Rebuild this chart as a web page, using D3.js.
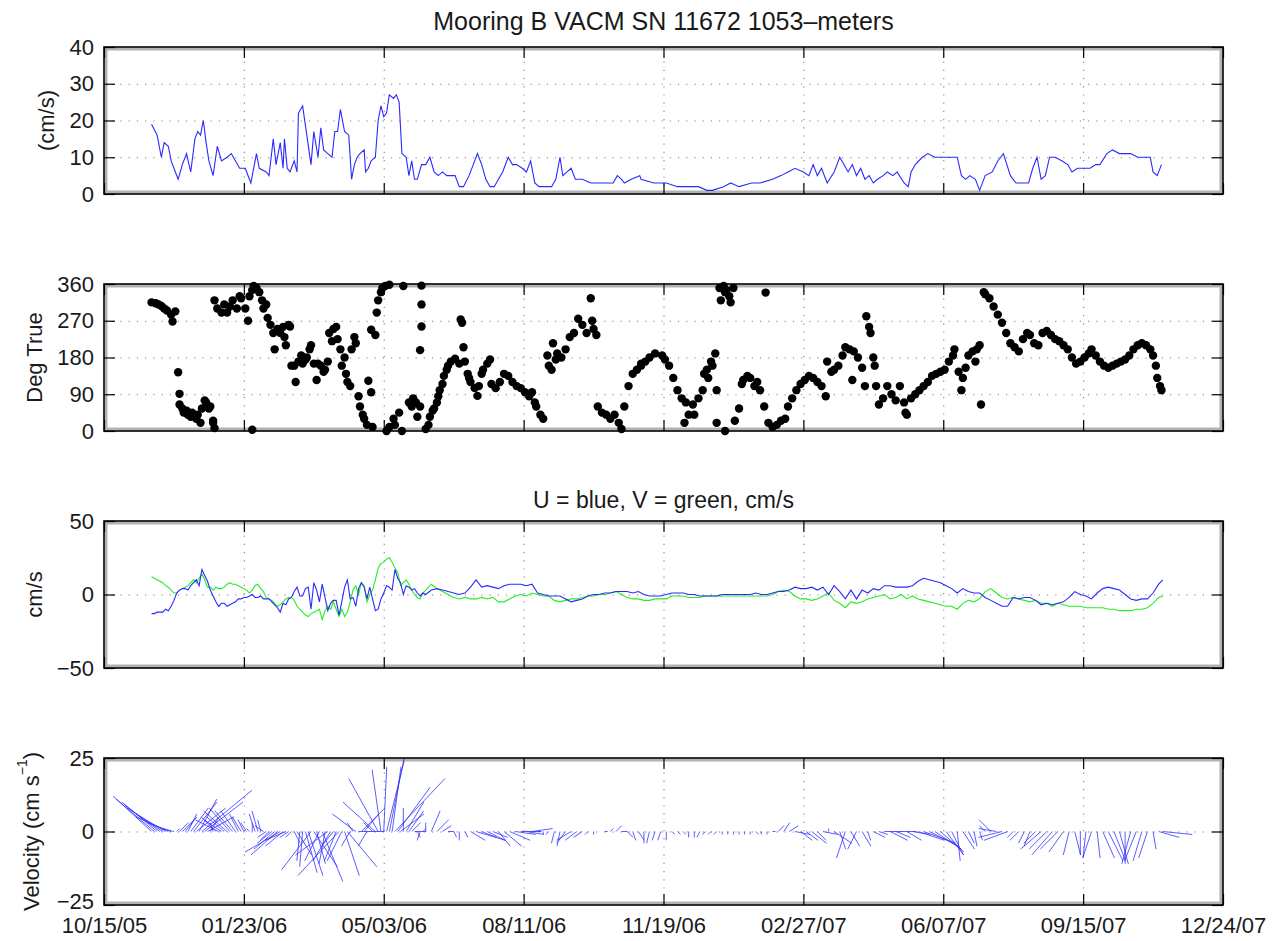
<!DOCTYPE html>
<html><head><meta charset="utf-8">
<script src="https://cdn.jsdelivr.net/npm/d3@7"></script>
<style>
body{margin:0;background:#fff}
svg{font-family:"Liberation Sans",Arial,Helvetica,sans-serif}
</style>
</head><body>
<svg id="c" width="1282" height="941"></svg>
<script>
// ---- time base: days since 10/15/05 ----
const xTickDays = [0,100,200,300,400,500,600,700,800];

// Panel 1: speed (cm/s) as [day, value]
const speed = [[34,19],[38,16],[41,10],[43,14],[46,13],[48,9],[53,4],[56,8],[59,11],[62,6],[65,15],[67,17],[69,16],[71,20],[73,14],[75,9],[78,5],[81,13],[84,9],[88,10],[91,11],[94,9],[97,7],[101,7],[105,3],[109,11],[111,7],[116,6],[118,5],
[121,15],[123,8],[126,14],[128,7],[129,15],[131,7],[133,6],[136,9],[138,6],[139,22],[142,24],[145,16],[148,8],[150,17],[153,10],[155,18],[157,12],[160,11],[163,10],[165,17],[167,17],[169,23],[172,17],[175,16],[177,4],[179,8],[181,10],[183,11],[186,12],[187,6],[189,7],[191,9],[194,10],[196,20],[198,24],[200,21],[202,22],[204,27],[207,26],[209,27],[211,25],[213,11],[216,10],[218,5],[220,9],[222,4],[224,4],[227,8],[230,8],[233,10],[236,6],[239,5],[242,6],[245,5],[248,5],[251,5],[254,2],[257,2],[261,5],[264,8],[267,11],[270,8],[273,4],[276,2],[279,2],[282,4],[285,6],[289,10],[292,8],[295,8],[299,7],[302,6],[305,9],[308,3],[311,2],[315,2],[320,2],[323,4],[326,10],[328,5],[331,6],[334,7],[337,4],[342,4],[348,3],[352,3],[358,3],[364,3],[367,5],[370,4],[372,3],[377,4],[383,5],
[384,4],[393,3],[402,3],[410,2],[416,2],[425,2],[431,1],[435,1],[443,2],[448,3],[454,2],[463,3],[469,3],[478,4],[484,5],[489,6],[494,7],[500,6],[504,5],[507,8],[510,5],[513,7],[517,3],[522,6],[526,10],[529,8],[532,6],[535,8],[538,5],[541,7],[544,4],[547,5],[550,3],[553,4],[557,5],[560,6],[564,5],[567,6],[572,3],[575,2],[577,6],[580,8],[585,10],[589,11],[594,10],[598,10],[602,10],[607,10],[610,10],[613,5],[616,4],[619,5],[623,4],[626,1],[630,5],[635,6],[639,9],[643,11],[648,5],[652,3],[657,3],[661,3],[664,7],[667,10],[670,4],[673,5],[676,10],[680,10],[685,9],[689,8],[692,6],[696,7],[701,7],[705,7],[709,8],[712,8],[717,11],[721,12],[726,11],[730,11],[734,11],[739,10],[743,10],[748,10],[750,6],[753,5],[756,8]];

// Panel 2: direction (deg true) as [day, value]
const direction = [[34,315],[37,313],[39,310],[41,306],[43,300],[45,295],[48,285],[49,268],[51,293],
[53,144],[54,91],[54,65],[56,55],[57,45],[59,50],[60,40],[62,35],[63,45],[65,35],[66,30],[67,40],[69,20],[70,55],[72,75],[73,70],[75,55],[76,60],[78,20],[79,7],[78,25],[106,3],
[79,320],[81,300],[84,290],[86,310],[88,290],[90,305],[92,320],[95,300],[97,330],[98,325],[101,300],[103,270],[104,330],[106,345],[107,355],[109,350],[111,340],[113,320],[114,300],[116,310],[117,277],[119,260],[121,240],[122,200],[124,250],[126,240],[128,255],[129,230],[130,210],[132,260],[133,256],[134,160],[136,160],[137,120],[139,170],[141,185],[142,165],[144,175],[145,180],[147,200],[148,210],[150,165],[152,125],[153,165],[155,160],[157,145],[158,150],[160,170],[161,240],[163,220],[164,250],[166,255],[167,225],[169,200],[170,160],[172,180],[173,140],[174,120],[176,110],[177,200],[179,230],[180,215],[182,85],[183,60],[185,40],[186,30],[188,15],[189,123],[191,95],[192,10],[191,248],[194,235],[195,290],[196,320],[198,340],[199,350],[201,355],[204,358],[202,0],[204,10],[207,30],[208,15],[211,45],[213,0],[214,355],[218,70],[220,60],[221,80],[223,70],[224,35],[226,60],[227,356],[227,310],[227,256],[226,198],
[230,5],[232,15],[233,35],[235,50],[236,55],[238,70],[239,85],[240,100],[242,115],[243,135],[245,150],[246,160],[248,170],[251,177],[254,165],[255,273],[257,205],[256,265],[258,170],[260,140],[261,130],[262,120],[265,105],[267,86],[268,110],[270,140],[271,150],[274,165],[276,175],[277,115],[280,105],[283,120],[286,140],[289,135],[292,120],[295,110],[298,105],[301,95],[304,85],[306,95],[308,70],[309,60],[312,40],[314,30],
[317,185],[318,160],[320,150],[321,215],[323,175],[324,190],[327,180],[330,200],[333,230],[336,240],[339,275],[342,260],[345,240],[348,325],[349,270],[350,250],[352,235],
[353,60],[356,45],[359,40],[362,30],[365,40],[368,20],[370,5],[372,60],[375,110],[378,140],[381,150],[384,160],
[384,165],[387,170],[390,180],[394,190],[399,185],[401,175],[404,160],[407,130],[410,100],[413,80],[416,70],[415,20],[418,40],[421,65],[422,40],[425,80],[428,100],[429,140],[431,150],[432,130],[434,170],[435,160],[437,190],[438,100],[440,350],[441,320],[443,355],[444,340],[445,345],[447,330],[448,315],[450,350],[438,20],[444,0],[451,25],[454,55],[456,115],[457,125],[460,135],[462,130],[465,110],[467,120],[469,100],[472,60],[473,339],[475,20],[478,10],[481,15],[484,25],[487,30],[489,60],[492,80],[495,100],[498,115],[501,125],[504,135],[507,130],[510,120],[513,110],[516,85],[517,170],[520,145],[522,150],[525,160],[528,185],[530,205],[533,200],[535,125],[536,195],[539,180],[542,155],[544,110],[545,281],[547,255],[548,240],[550,180],[551,160],[552,110],[554,65],[557,80],[560,110],[563,90],[566,75],[569,110],[572,70],[573,45],[574,40],[577,80],[580,90],[583,100],[586,110],[589,120],[592,135],[595,140],[598,145],[601,150],[604,170],[607,185],[608,200],[611,145],[613,100],[614,130],[616,155],[618,185],[621,195],[623,170],[624,200],[626,210],[627,65],[629,340],[630,335],[633,325],[636,305],[639,285],[642,265],[645,240],[648,215],[651,205],[654,195],[657,225],[660,240],[662,235],[665,215],[668,210],[671,240],[674,245],[677,235],[680,225],[683,220],[686,210],[689,200],[692,180],[695,165],[698,170],[701,180],[704,190],[706,200],[709,185],[712,170],[715,160],[718,155],[721,160],[724,165],[727,170],[730,175],[733,185],[736,200],[739,210],[742,215],[745,210],[748,200],[750,185],[752,160],[753,130],[755,110],[756,100]];

// Panels 3 & 4: U and V components (cm/s)
const uvDays = [34,36,38,40,42,44,46,48,50,52,54,56,58,60,62,64,66,68,70,72,74,76,78,80,82,84,86,88,90,92,94,96,98,100,102,104,106,108,110,112,114,116,118,120,122,124,126,128,130,132,134,136,138,140,142,144,146,148,150,152,154,156,158,160,162,164,166,168,170,172,174,176,178,180,182,184,186,188,190,192,194,196,198,200,202,204,206,208,210,212,214,216,218,220,222,224,226,228,230,
234,238,242,246,250,254,258,262,266,270,274,278,282,286,290,294,298,302,306,310,314,318,322,326,330,334,338,342,346,350,354,358,362,366,370,374,378,382,
386,390,394,398,402,406,410,414,418,422,426,430,434,438,442,446,450,454,458,462,466,470,474,478,482,486,490,494,498,502,506,510,514,518,522,526,530,534,538,542,546,550,554,558,562,566,570,574,578,582,586,590,594,598,602,606,610,614,618,622,626,630,634,638,642,646,650,654,658,662,666,670,674,678,682,686,690,694,698,702,706,710,714,718,722,726,730,734,738,742,746,750,754,757];
const uVals = [-13,-13,-12,-12,-12,-10,-11,-8,-4,1,
3,4,4,3,6,8,10,6,17,13,
9,3,-1,-5,-8,-6,-6,-8,-7,-6,
-5,-3,-3,-2,-2,-1,0,-2,-2,-1,
-3,-3,-3,-5,-7,-9,-12,-6,-7,-3,
-2,2,5,-1,-1,4,5,-10,8,3,
-5,7,-2,-11,-6,-4,-4,-14,-5,5,
10,-3,-2,-8,4,8,5,-3,5,-3,
-11,-10,-3,1,6,5,3,17,11,8,
0,6,5,3,4,1,-1,1,0,
3,4,3,2,1,0,1,5,10,5,6,5,4,6,7,7,7,6,7,1,0,-1,-1,-1,-3,-5,-4,-3,-1,0,0,1,1,2,2,2,1,2,
0,-1,-1,-1,0,1,1,1,0,0,-1,-1,-1,-1,0,0,0,0,0,0,1,0,0,1,2,2,3,5,4,4,5,3,5,0,6,2,-3,3,-3,3,1,4,3,6,6,5,5,5,6,9,11,10,9,8,6,4,1,4,2,1,1,-2,-4,-6,-8,-8,-2,-3,-2,-2,-4,-7,-6,-7,-6,-5,-2,2,0,-1,-3,1,4,5,4,3,0,-3,-4,-3,-3,1,7,10];
const vVals = [12,11,10,9,8,6,5,3,1,1,
3,4,5,6,8,10,8,11,14,10,
5,5,3,5,4,4,5,7,8,7,
7,6,5,4,3,1,3,6,7,4,
2,-2,-3,-4,-6,-8,-7,-5,-3,-2,
-2,-4,-8,-10,-12,-14,-15,-13,-12,-11,
-10,-17,-11,-8,-10,-5,-10,-15,-10,-15,
-12,-5,3,6,0,8,6,-5,0,3,
10,18,21,22,24,25,22,18,15,6,
8,10,7,3,0,-2,-3,1,3,
7,4,2,0,-2,-3,-2,-3,-3,-2,-3,-2,-5,-5,-3,-1,0,-1,1,0,-1,-1,-4,-5,-4,-3,-3,-2,-1,-1,0,0,1,2,0,-2,-3,-3,
-4,-4,-3,-3,-3,-1,-1,-1,-2,-2,-2,-1,-1,-1,-1,-1,-1,-1,-1,-1,-1,-1,-1,0,2,3,2,-1,-3,-3,-4,-3,-1,1,-4,-6,-9,-5,-6,-5,-3,-2,-1,0,-3,-2,0,-3,-1,-3,-4,-5,-6,-7,-8,-8,-10,-6,-4,-5,-3,2,4,1,-2,-3,-2,-3,-4,-5,-4,-6,-6,-8,-6,-7,-8,-8,-8,-9,-9,-9,-9,-10,-10,-11,-11,-11,-10,-10,-9,-6,-2,-1];

const speedTicks = [0,10,20,30,40];
const dirTicks = [0,90,180,270,360];
const uvTicks = [-50,0,50];
const stickTicks = [-25,0,25];

// ---- layout ----
const L = 104, R = 1223, PH = 147;
const tops = [47, 284, 521, 758];
const START = Date.UTC(2005, 9, 15);
const toDate = d => new Date(START + d * 864e5);
const x = d3.scaleUtc().domain([toDate(0), toDate(800)]).range([L, R]);
const xTickDates = xTickDays.map(toDate);
const fmt = d3.utcFormat("%m/%d/%y");
const FS = 22;

const svg = d3.select("#c");
svg.append("rect").attr("width",1282).attr("height",941).attr("fill","#fff");

function panel(idx, domain, ticks, ylabel, ylabelX, showX){
  const g = svg.append("g").attr("transform", `translate(0,${tops[idx]})`);
  const y = d3.scaleLinear().domain(domain).range([PH, 0]);
  // dotted grid
  const gx = g.append("g").attr("transform", `translate(0,${PH})`)
    .call(d3.axisBottom(x).tickValues(xTickDates.slice(1,-1)).tickSize(-PH).tickFormat(""));
  const gy = g.append("g").attr("transform", `translate(${L},0)`)
    .call(d3.axisLeft(y).tickValues(ticks.slice(1,-1)).tickSize(-(R-L)).tickFormat(""));
  [gx, gy].forEach(a => { a.select(".domain").remove();
    a.selectAll("line").attr("stroke","#808080").attr("stroke-width",1.1).attr("stroke-dasharray","1.2 7"); });
  // clip
  g.append("clipPath").attr("id","clip"+idx).append("rect")
    .attr("x",L).attr("y",0).attr("width",R-L).attr("height",PH);
  const data = g.append("g").attr("clip-path", `url(#clip${idx})`);
  // ticks (inward)
  const axes = [];
  axes.push(g.append("g").attr("class","xb").attr("transform", `translate(0,${PH})`)
    .call(d3.axisBottom(x).tickValues(xTickDates).tickSize(-11).tickPadding(12).tickFormat(showX ? fmt : "")));
  axes.push(g.append("g").call(d3.axisTop(x).tickValues(xTickDates).tickSize(-11).tickFormat("")));
  const yl = g.append("g").attr("transform", `translate(${L},0)`)
    .call(d3.axisLeft(y).tickValues(ticks).tickSize(-11).tickPadding(10));
  axes.push(yl);
  axes.push(g.append("g").attr("transform", `translate(${R},0)`)
    .call(d3.axisRight(y).tickValues(ticks).tickSize(-11).tickFormat("")));
  axes.forEach(a => {
    a.select(".domain").remove();
    a.attr("font-family", null).attr("font-size", FS);
    a.selectAll("line").attr("stroke","#000").attr("stroke-width",1.2);
    a.selectAll("text").attr("fill","#1a1a1a");
  });
  if (showX) {
    // keep lowest y label clear of the date labels
    yl.selectAll(".tick").filter(d => d === domain[0]).select("text").attr("y", -4);
  }
  // frame with dense minor-tick look
  g.append("rect").attr("x",L+2).attr("y",2).attr("width",R-L-4).attr("height",PH-4)
    .attr("fill","none").attr("stroke","#000").attr("stroke-opacity",0.3).attr("stroke-width",3);
  g.append("rect").attr("x",L).attr("y",0).attr("width",R-L).attr("height",PH)
    .attr("fill","none").attr("stroke","#000").attr("stroke-width",1.6);
  // y label
  if (ylabel) {
    const t = g.append("text").attr("transform", `translate(${ylabelX},${PH/2}) rotate(-90)`)
      .attr("text-anchor","middle").attr("dominant-baseline","central")
      .attr("font-size",FS).attr("fill","#1a1a1a");
    ylabel(t);
  }
  return {g, y, data};
}

// Panel 1
const p1 = panel(0, [0,40], speedTicks, t => t.text("(cm/s)"), 46, false);
p1.data.append("path").datum(speed)
  .attr("d", d3.line().x(d => x(toDate(d[0]))).y(d => p1.y(d[1])))
  .attr("fill","none").attr("stroke","#2a2aff").attr("stroke-width",1.1);

// Panel 2
const p2 = panel(1, [0,360], dirTicks, t => t.text("Deg True"), 34, false);
p2.g.append("g").selectAll("circle").data(direction).join("circle")
  .attr("cx", d => x(toDate(d[0]))).attr("cy", d => p2.y(d[1])).attr("r",4.2).attr("fill","#000");

// Panel 3
const p3 = panel(2, [-50,50], uvTicks, t => t.text("cm/s"), 34, false);
const uv = uvDays.map((d,i) => ({d, u: uVals[i], v: vVals[i]}));
p3.data.append("path").datum(uv)
  .attr("d", d3.line().x(o => x(toDate(o.d))).y(o => p3.y(o.v)))
  .attr("fill","none").attr("stroke","#22ee22").attr("stroke-width",1.1);
p3.data.append("path").datum(uv)
  .attr("d", d3.line().x(o => x(toDate(o.d))).y(o => p3.y(o.u)))
  .attr("fill","none").attr("stroke","#2a2aff").attr("stroke-width",1.1);

// Panel 4: stick plot
const p4 = panel(3, [-25,25], stickTicks, t => {
  t.append("tspan").text("Velocity (cm s");
  t.append("tspan").attr("font-size",14).attr("dy",-9).text("\u22121");
  t.append("tspan").attr("dy",9).text(")");
}, 31, true);
const k = p4.y(0) - p4.y(1);
p4.data.append("g").selectAll("line").data(uv).join("line")
  .attr("x1", o => x(toDate(o.d))).attr("y1", p4.y(0))
  .attr("x2", o => x(toDate(o.d)) + o.u * k).attr("y2", o => p4.y(o.v))
  .attr("stroke","#2a2aff").attr("stroke-width",0.9).attr("stroke-opacity",0.85);

// Titles
svg.append("text").attr("x",(L+R)/2).attr("y",30).attr("text-anchor","middle")
  .attr("font-size",25).attr("fill","#1a1a1a").text("Mooring B VACM SN 11672 1053\u2013meters");
svg.append("text").attr("x",(L+R)/2).attr("y",508).attr("text-anchor","middle")
  .attr("font-size",23).attr("fill","#1a1a1a").text("U = blue, V = green, cm/s");
</script>
</body></html>
